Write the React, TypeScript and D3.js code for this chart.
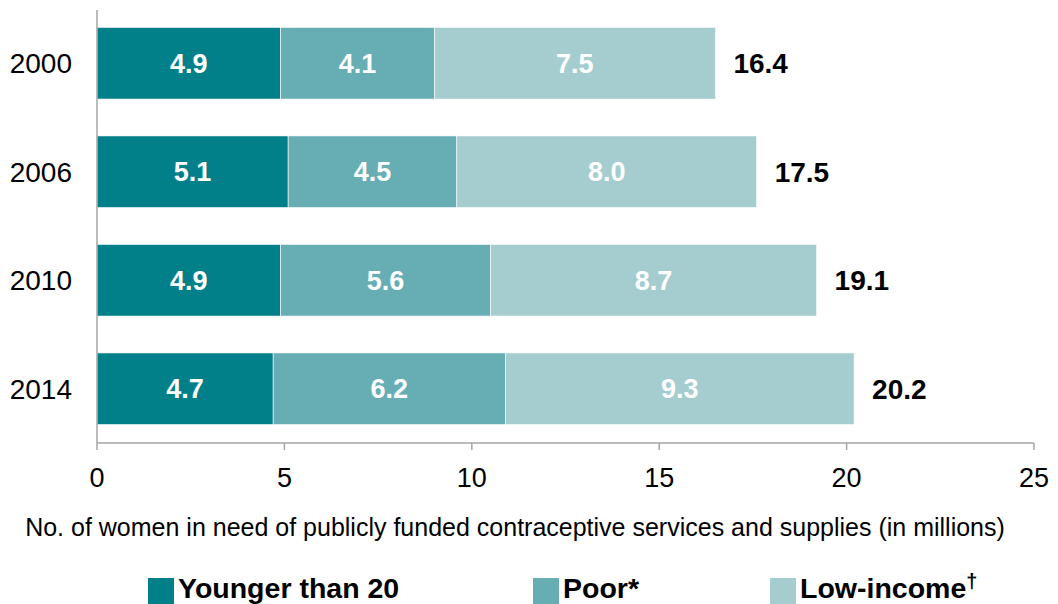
import React from "react";
import * as d3 from "d3";

const years = ["2000", "2006", "2010", "2014"];
const seriesNames = ["Younger than 20", "Poor*", "Low-income"];
const younger = [4.9, 5.1, 4.9, 4.7];
const poor = [4.1, 4.5, 5.6, 6.2];
const lowIncome = [7.5, 8.0, 8.7, 9.3];
const totals = [16.4, 17.5, 19.1, 20.2];
const xTicks = [0, 5, 10, 15, 20, 25];
const colors = ["#02808A", "#66AEB4", "#A5CDD0"];

const W = 1058;
const H = 604;
const FONT = "'Liberation Sans', Arial, Helvetica, sans-serif";

export default function App() {
  const x = d3.scaleLinear().domain([0, 25]).range([97, 1034]);
  const y = d3.scaleBand<string>().domain(years).range([9, 443]).paddingInner(0.34).paddingOuter(0.17);
  const series = [younger, poor, lowIncome];
  const rows = years.map((yr, i) => {
    let acc = 0;
    return series.map((s, k) => {
      const x0 = acc;
      acc += s[i];
      return { yr, k, v: s[i], x0, x1: acc };
    });
  });
  const axisY = 443;
  const legendX = [148, 533, 770];

  return (
    <svg width={W} height={H} style={{ position: "absolute", left: 0, top: 0 }} fontFamily={FONT}>
      <rect width={W} height={H} fill="#fff" />
      {rows.map((segs, i) => (
        <g key={years[i]}>
          {segs.map((d) => (
            <g key={d.k}>
              <rect
                x={x(d.x0)}
                y={y(d.yr)}
                width={x(d.x1) - x(d.x0)}
                height={y.bandwidth()}
                fill={colors[d.k]}
                stroke="#fff"
                strokeWidth={0.6}
              />
              <text
                x={(x(d.x0) + x(d.x1)) / 2}
                y={(y(d.yr) as number) + y.bandwidth() / 2}
                dy="0.36em"
                textAnchor="middle"
                fill="#fff"
                fontWeight="bold"
                fontSize={27}
              >
                {d.v.toFixed(1)}
              </text>
            </g>
          ))}
          <text
            x={x(segs[2].x1) + 18}
            y={(y(years[i]) as number) + y.bandwidth() / 2}
            dy="0.36em"
            fill="#000"
            fontWeight="bold"
            fontSize={28}
          >
            {totals[i].toFixed(1)}
          </text>
          <text
            x={72}
            y={(y(years[i]) as number) + y.bandwidth() / 2}
            dy="0.36em"
            textAnchor="end"
            fill="#000"
            fontSize={28}
          >
            {years[i]}
          </text>
        </g>
      ))}
      <line x1={x(0)} x2={x(0)} y1={10} y2={axisY} stroke="#A6A6A6" strokeWidth={1.5} />
      <line x1={x(0)} x2={x(25)} y1={axisY} y2={axisY} stroke="#A6A6A6" strokeWidth={1.5} />
      {xTicks.map((t) => (
        <g key={t}>
          <line x1={x(t)} x2={x(t)} y1={axisY} y2={axisY + 7} stroke="#A6A6A6" strokeWidth={1.5} />
          <text x={x(t)} y={487} textAnchor="middle" fontSize={27} fill="#000">
            {t}
          </text>
        </g>
      ))}
      <text x={515} y={536} textAnchor="middle" fontSize={25} fill="#000">
        No. of women in need of publicly funded contraceptive services and supplies (in millions)
      </text>
      {seriesNames.map((name, k) => (
        <g key={name}>
          <rect x={legendX[k]} y={578} width={26} height={26} fill={colors[k]} />
          <text x={legendX[k] + 30} y={598} fontSize={28.5} fontWeight="bold" fill="#000">
            {name}
            {k === 2 ? (
              <tspan dy={-10} fontSize={20}>
                †
              </tspan>
            ) : null}
          </text>
        </g>
      ))}
    </svg>
  );
}
